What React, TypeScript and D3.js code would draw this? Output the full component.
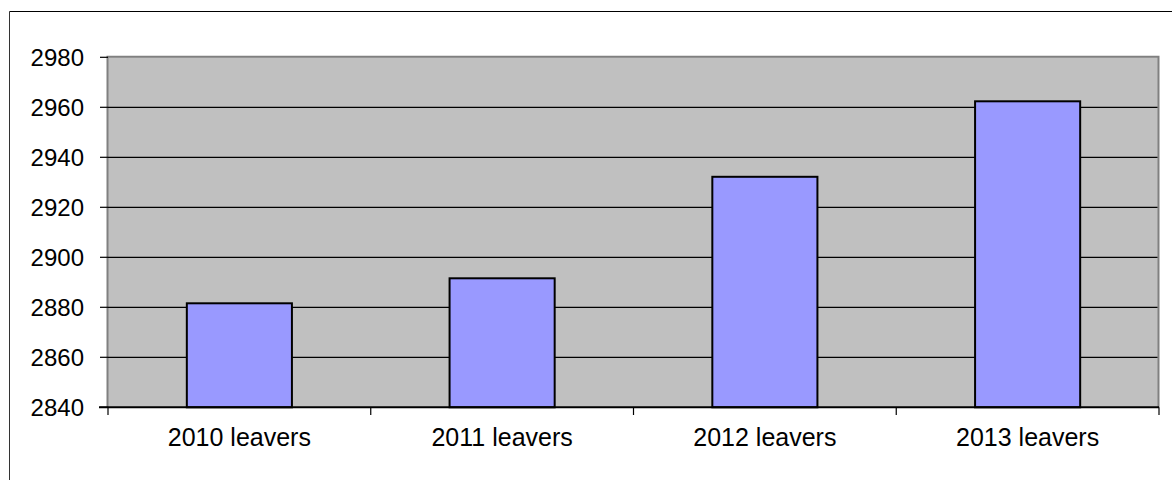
import React from "react";
import * as d3 from "d3";

const categories = ["2010 leavers", "2011 leavers", "2012 leavers", "2013 leavers"];
const values = [2881.6, 2891.6, 2932.2, 2962.4];
const yTicks = [2840, 2860, 2880, 2900, 2920, 2940, 2960, 2980];

const W = 1172;
const H = 480;
const left = 108;
const right = 1159;
const top = 57.3;
const bottom = 407.3;

export default function App() {
  const y = d3.scaleLinear().domain([2840, 2980]).range([bottom, top]);
  const x = d3
    .scaleBand<string>()
    .domain(categories)
    .range([left, right])
    .paddingInner(0.6)
    .paddingOuter(0.3);
  const step = x.step();
  const boundaries = d3.range(categories.length + 1).map((i) => left + i * step);
  const font = "'Liberation Sans', Arial, sans-serif";

  return (
    <svg
      width={W}
      height={H}
      style={{ position: "absolute", left: 0, top: 0, background: "#fff" }}
    >
      {/* outer chart border */}
      <line x1={9.5} y1={11.5} x2={W + 5} y2={11.5} stroke="#000" strokeWidth={1} />
      <line x1={9.5} y1={11.5} x2={9.5} y2={H + 5} stroke="#333" strokeWidth={1} />

      {/* plot area */}
      <rect x={left} y={top} width={right - left} height={bottom - top} fill="#C0C0C0" />
      <path
        d={`M${left - 0.5},${bottom} V${top - 0.5} H${right - 0.5} V${bottom}`}
        fill="none"
        stroke="#808080"
        strokeWidth={2}
      />

      {/* gridlines */}
      {yTicks.slice(1, -1).map((t) => (
        <line key={t} x1={left} x2={right - 1.5} y1={y(t)} y2={y(t)} stroke="#000" strokeWidth={1.2} />
      ))}

      {/* bars */}
      {categories.map((c, i) => (
        <rect
          key={c}
          x={x(c)!}
          y={y(values[i])}
          width={x.bandwidth()}
          height={bottom - y(values[i])}
          fill="#9999FF"
          stroke="#000"
          strokeWidth={2}
        />
      ))}

      {/* y axis ticks & labels */}
      {yTicks.map((t) => (
        <g key={t}>
          <line x1={100} x2={left} y1={y(t)} y2={y(t)} stroke="#000" strokeWidth={1.2} />
          <text
            x={84}
            y={y(t)}
            textAnchor="end"
            dominantBaseline="central"
            fontFamily={font}
            fontSize={24}
            fill="#000"
          >
            {t}
          </text>
        </g>
      ))}

      {/* x axis */}
      <line x1={99} x2={right} y1={bottom} y2={bottom} stroke="#000" strokeWidth={2} />
      {boundaries.map((b, i) => (
        <line key={i} x1={b} x2={b} y1={bottom} y2={415} stroke="#000" strokeWidth={1.2} />
      ))}
      {categories.map((c) => (
        <text
          key={c}
          x={x(c)! + x.bandwidth() / 2}
          y={446}
          textAnchor="middle"
          fontFamily={font}
          fontSize={25}
          fill="#000"
        >
          {c}
        </text>
      ))}
    </svg>
  );
}
